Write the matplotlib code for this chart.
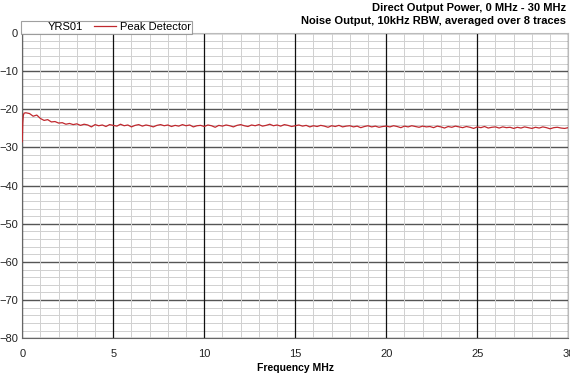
import matplotlib
matplotlib.use("Agg")
import matplotlib.pyplot as plt
from matplotlib.lines import Line2D
import numpy as np

plt.rcParams["font.family"] = ["Liberation Sans", "DejaVu Sans"]

# trace values (MHz, dBm)
freq_start = [0.0, 0.03, 0.06, 0.1]
level_start = [-28.5, -23.5, -21.6, -21.0]

freq_step = 0.2
level_main = [
    -20.9, -21.1, -21.8, -21.5, -22.4, -22.9, -22.7, -23.3, -23.2, -23.6,   # 0.2 - 2.0
    -23.5, -23.9, -23.7, -24.0, -23.8, -24.2, -23.9, -24.1, -24.6, -24.0,   # 2.2 - 4.0
    -24.3, -24.1, -24.5, -24.0, -24.2, -24.4, -23.9, -24.3, -24.1, -24.6,   # 4.2 - 6.0
    -24.2, -24.0, -24.4, -24.1, -24.3, -24.6, -24.2, -24.0, -24.3, -24.1,   # 6.2 - 8.0
    -24.5, -24.2, -24.4, -24.0, -24.3, -24.1, -24.6, -24.3, -24.2, -24.5,   # 8.2 - 10.0
    -24.1, -24.3, -24.7, -24.2, -24.4, -24.1, -24.3, -24.6, -24.2, -24.0,   # 10.2 - 12.0
    -24.3, -24.5, -24.1, -24.3, -24.0, -24.4, -24.2, -23.9, -24.3, -24.1,   # 12.2 - 14.0
    -24.4, -24.0, -24.2, -24.5, -24.3, -24.1, -24.4, -24.2, -24.6, -24.3,   # 14.2 - 16.0
    -24.5, -24.2, -24.4, -24.7, -24.3, -24.5, -24.2, -24.6, -24.4, -24.3,   # 16.2 - 18.0
    -24.6, -24.4, -24.8, -24.5, -24.3, -24.6, -24.4, -24.7, -24.5, -24.4,   # 18.2 - 20.0
    -24.6, -24.3, -24.5, -24.8, -24.4, -24.6, -24.3, -24.5, -24.7, -24.4,   # 20.2 - 22.0
    -24.6, -24.5, -24.8, -24.4, -24.6, -24.9, -24.5, -24.7, -24.4, -24.6,   # 22.2 - 24.0
    -24.8, -24.5, -24.7, -25.0, -24.6, -24.8, -24.5, -24.9, -24.7, -24.6,   # 24.2 - 26.0
    -24.9, -24.6, -24.8, -24.7, -25.0, -24.7, -24.9, -24.6, -24.8, -25.0,   # 26.2 - 28.0
    -24.7, -24.9, -24.6, -24.8, -25.1, -24.8, -24.7, -24.9, -25.0, -24.8,   # 28.2 - 30.0
]
freq_main = [round(freq_step * (i + 1), 2) for i in range(len(level_main))]

freq = np.array(freq_start + freq_main)
level = np.array(level_start + level_main)

title = "Direct Output Power, 0 MHz - 30 MHz\nNoise Output, 10kHz RBW, averaged over 8 traces"

fig = plt.figure(figsize=(5.7, 3.8), dpi=100)
ax = fig.add_axes([0.039, 0.11, 0.958, 0.803])

line, = ax.plot(freq, level, color="#c0282e", lw=0.9, zorder=3)

ax.set_xlim(0, 30)
ax.set_ylim(-80, 0)
ax.set_xticks(np.arange(0, 31, 5))
ax.set_xticks(np.arange(0, 31, 1), minor=True)
ax.set_yticks(np.arange(-80, 1, 10))
ax.set_yticks(np.arange(-80, 1, 2), minor=True)

# light minor grid, then darker major lines on top of it
ax.grid(which="minor", color="#d0d0d0", lw=0.7, zorder=0)
for y in ax.get_yticks():
    ax.axhline(y, color="#555555", lw=1.0, zorder=1)
for x in ax.get_xticks():
    ax.axvline(x, color="#111111", lw=0.9, zorder=2)

for s in ["left", "bottom"]:
    ax.spines[s].set_color("#666666")
for s in ["top", "right"]:
    ax.spines[s].set_color("#bbbbbb")

ax.tick_params(which="both", length=0, labelsize=8, colors="#222222")
ax.tick_params(axis="x", pad=8)
ax.tick_params(axis="y", pad=3)
ax.set_xlabel("Frequency MHz", fontsize=7.5, fontweight="bold", labelpad=3)

fig.text(0.993, 0.962, title, ha="right", va="center", fontsize=8,
         fontweight="bold", linespacing=1.4)

blank = Line2D([], [], color="none")
leg = ax.legend([blank, line], ["YRS01", "Peak Detector"], ncol=2,
                loc="lower left", bbox_to_anchor=(-0.003, 0.997),
                fontsize=8, frameon=True, fancybox=False,
                handlelength=2.0, handletextpad=0.3, columnspacing=1.0,
                borderpad=0.15, borderaxespad=0.0)
leg.get_frame().set_edgecolor("#888888")
leg.get_frame().set_linewidth(0.8)

fig.savefig("out.png", dpi=100)
